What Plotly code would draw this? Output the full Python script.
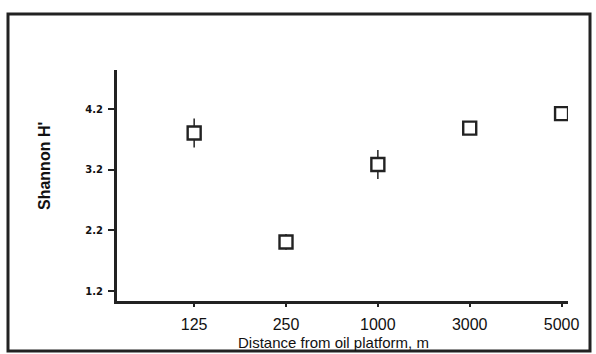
import plotly.graph_objects as go

categories = ["125", "250", "1000", "3000", "5000"]
shannon_h = [3.81, 2.01, 3.29, 3.89, 4.13]
error_h = [0.24, 0.13, 0.24, 0.08, 0.1]
y_ticks = [1.2, 2.2, 3.2, 4.2]

fig = go.Figure()
fig.add_trace(go.Scatter(
    x=list(range(len(categories))), y=shannon_h, mode="markers",
    marker=dict(symbol="square", size=13, color="white",
                line=dict(color="#222", width=2.4)),
    error_y=dict(type="data", array=error_h, visible=True, width=0,
                 thickness=1.5, color="#222"),
    showlegend=False,
))

L, R, T, B = 117, 28, 70, 53
W, H = 596, 354
pw, ph = W - L - R, H - T - B

fig.update_layout(
    width=W, height=H, margin=dict(l=L, r=R, t=T, b=B),
    plot_bgcolor="white", paper_bgcolor="white",
    xaxis=dict(range=[-0.84, 4.07], tickvals=list(range(len(categories))),
               ticktext=categories, showgrid=False, zeroline=False,
               showline=True, linewidth=3, linecolor="#222",
               ticks="outside", ticklen=3, tickwidth=2, tickcolor="#222",
               ticklabelstandoff=4,
               tickfont=dict(family="Liberation Sans", size=16, color="#111")),
    yaxis=dict(range=[1.035, 4.85], tickvals=y_ticks,
               ticktext=[f"{v:.1f}" for v in y_ticks], showgrid=False,
               zeroline=False, showline=True, linewidth=3, linecolor="#222",
               ticks="outside", ticklen=6, tickwidth=2, tickcolor="#222",
               ticklabelstandoff=3,
               tickfont=dict(family="DejaVu Sans", size=10, color="#111",
                             weight="bold")),
    shapes=[dict(type="rect", xref="paper", yref="paper",
                 x0=(8 - L) / pw, x1=(590 - L) / pw,
                 y0=(H - B - 351) / ph, y1=(H - B - 14) / ph,
                 line=dict(color="#222", width=3))],
    annotations=[
        dict(text="Shannon H'", xref="paper", yref="paper",
             x=(44 - L) / pw, y=(H - B - 166) / ph, showarrow=False,
             textangle=-90, xanchor="center", yanchor="middle",
             font=dict(family="Liberation Sans", size=16, color="#111",
                       weight="bold")),
        dict(text="Distance from oil platform, m", xref="paper", yref="paper",
             x=(333 - L) / pw, y=(H - B - 342) / ph, showarrow=False,
             xanchor="center", yanchor="middle",
             font=dict(family="Liberation Sans", size=15, color="#111")),
    ],
)

fig.write_html("out.html")
